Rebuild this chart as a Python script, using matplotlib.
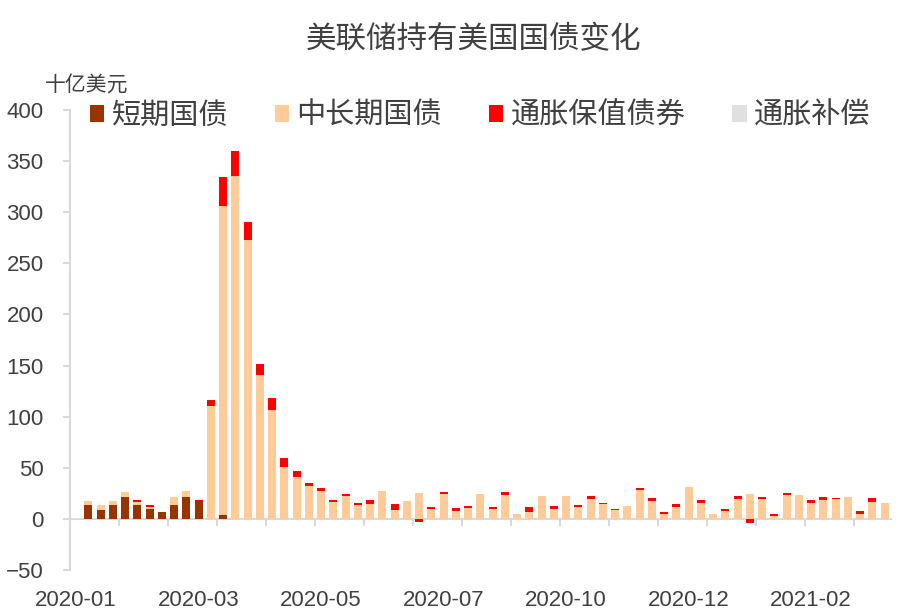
import numpy as np
import pandas as pd
import matplotlib
matplotlib.use("Agg")
import matplotlib.pyplot as plt
from matplotlib.patches import Patch

plt.rcParams['font.family'] = ['Liberation Sans', 'Noto Sans CJK SC', 'DejaVu Sans']

# weekly dates (Wednesdays), 67 weeks starting 2020-01-01
dates = pd.date_range("2020-01-01", periods=67, freq="7D")

# weekly change in holdings, billion USD
bills = [0, 14, 9, 14, 21, 14, 9.5, 7, 14, 21, 17, 0, 4] + [0] * 54

notes = [0, 4, 5, 3.5, 5.7, 2.6, 2.5, 0, 7.5, 6, 0, 110, 302, 335, 272.6,
         140.5, 107, 51, 41.2, 31.8, 27.5, 16.7, 22.2, 13.4, 14.4, 27.4,
         9.2, 17.3, 25, 10, 24, 8.2, 10.5, 24, 10, 23, 4.6, 6.9, 22.5, 9.5,
         22.5, 11.2, 19.6, 14.7, 8.5, 13, 28, 17.3, 4.6, 11.2, 31.3, 15.7,
         5, 7.8, 19.5, 24.5, 19.6, 2.4, 23.5, 23.8, 16, 18.6, 19.3, 21.9,
         4.9, 16.7, 15.7]

tips = [0, 0, 0, 0, 0, 1.6, 2, 0, 0, 0, 1.5, 6, 28, 25, 18, 11.3, 11, 8.7,
        5.5, 3.5, 2.7, 2.3, 2, 2, 3.9, 0, 5.8, 0, -3, 1.5, 2.4, 2.3, 1.9, 0,
        1.6, 3.4, 0, 4.3, 0, 2.9, 0, 2.7, 3.3, 1.3, 1.3, 0, 2, 3.2, 2, 3.5,
        0, 3, 0, 1.7, 3.3, -3.5, 1.6, 2.4, 2.3, 0, 3, 2.6, 1.6, 0, 3.3, 3.3, 0]

inflation_comp = [0.8] + [0] * 66

names = ['短期国债', '中长期国债', '通胀保值债券', '通胀补偿']
colors = ['#993300', '#FFCC99', '#FF0000', '#E0E0E0']
series = [bills, notes, tips, inflation_comp]

x = np.arange(len(dates))

fig = plt.figure(figsize=(9.11, 6.11), dpi=100)
ax = fig.add_axes([0.0768, 0.067, 0.901, 0.753])

pos_base = np.zeros(len(x))
neg_base = np.zeros(len(x))
for vals, c in zip(series, colors):
    v = np.array(vals, dtype=float)
    bottom = np.where(v >= 0, pos_base, neg_base)
    ax.bar(x, v, width=0.65, bottom=bottom, color=c, linewidth=0, zorder=2)
    pos_base += np.clip(v, 0, None)
    neg_base += np.clip(v, None, 0)

ax.set_xlim(-0.5, len(x) - 0.5)
ax.set_ylim(-50, 400)
ax.set_yticks(np.arange(-50, 401, 50))

for s in ['top', 'right']:
    ax.spines[s].set_visible(False)
ax.spines['left'].set_color('#D9D9D9')
ax.spines['left'].set_linewidth(1.5)
ax.spines['bottom'].set_position(('data', 0))
ax.spines['bottom'].set_color('#D9D9D9')
ax.spines['bottom'].set_linewidth(1.5)
ax.spines['bottom'].set_zorder(1)

# month labels every 10 weeks, shown at the bottom
lab_idx = x[::10]
ax.set_xticks(lab_idx)
ax.set_xticklabels([d.strftime('%Y-%m') for d in dates[lab_idx]])
ax.set_xticks(np.arange(3.5, len(x) - 1, 4), minor=True)
ax.tick_params(axis='x', which='major', length=0, pad=51,
               labelsize=16, labelcolor='#404040')
ax.tick_params(axis='x', which='minor', length=5, width=1.5, color='#D9D9D9')
ax.tick_params(axis='y', length=5, width=1.5, color='#D9D9D9', pad=14,
               labelsize=16, labelcolor='#404040')

handles = [Patch(facecolor=c, edgecolor='none') for c in colors]
fig.legend(handles, names, loc='center', bbox_to_anchor=(0.527, 0.81),
           ncol=4, frameon=False, fontsize=21, handlelength=0.5,
           handleheight=0.5, handletextpad=0.25, columnspacing=1.6,
           labelcolor='#404040')

fig.text(0.52, 0.935, '美联储持有美国国债变化', ha='center', va='center',
         fontsize=22, color='#404040')
fig.text(0.0955, 0.861, '十亿美元', ha='center', va='center',
         fontsize=15, color='#404040')

fig.savefig('out.png', dpi=100)
